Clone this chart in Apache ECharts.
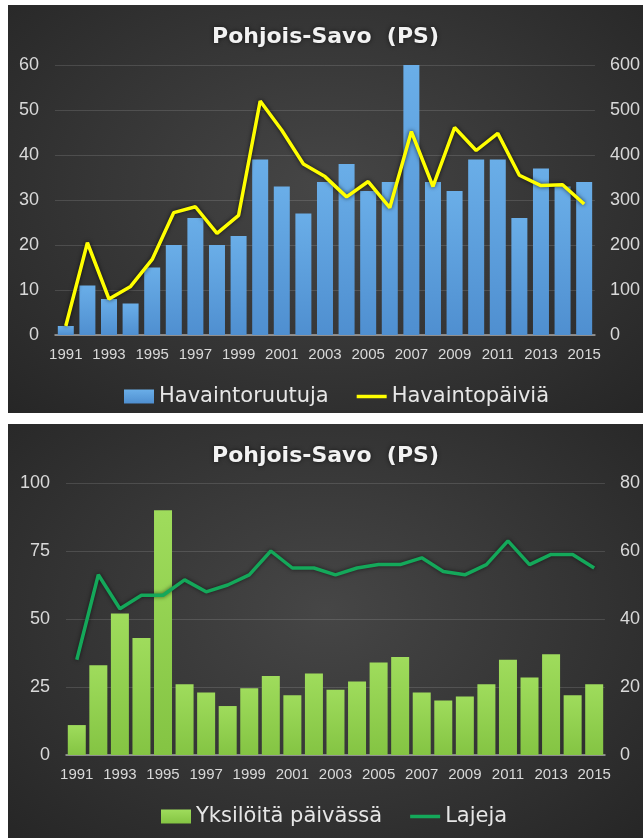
<!DOCTYPE html>
<html>
<head>
<meta charset="utf-8">
<script src="https://cdn.jsdelivr.net/npm/echarts@6/dist/echarts.min.js"></script>
<style>
  html, body { margin: 0; padding: 0; background: #fff; }
  .panel {
    position: absolute;
    left: 8px;
    width: 635px;
    background: radial-gradient(ellipse at 50% 45%, #464646 0%, #363636 50%, #262626 100%);
  }
  #top { top: 5px; height: 408px; }
  #bottom { top: 424px; height: 414px; }
</style>
</head>
<body>
<div id="top" class="panel"></div>
<div id="bottom" class="panel"></div>
<script>
var years = ['1991', '1992', '1993', '1994', '1995', '1996', '1997', '1998', '1999', '2000',
  '2001', '2002', '2003', '2004', '2005', '2006', '2007', '2008', '2009', '2010',
  '2011', '2012', '2013', '2014', '2015']

// yläkaavio
var havaintoruutuja = [2, 11, 8, 7, 15, 20, 26, 20, 22, 39, 33, 27, 34, 38, 32, 34, 60, 34, 32, 39, 39, 26, 37, 33, 34]
var havaintopaivia = [20, 205, 80, 108, 168, 272, 285, 226, 266, 520, 455, 380, 352, 307, 341, 283, 452, 330, 461, 410, 448, 355, 332, 334, 291]

// alakaavio
var yksiloita = [11, 33, 52, 43, 90, 26, 23, 18, 24.5, 29, 22, 30, 24, 27, 34, 36, 23, 20, 21.5, 26, 35, 28.5, 37, 22, 26]
var lajeja = [28, 53, 43, 47, 47, 51.5, 48, 50, 53, 60, 55, 55, 53, 55, 56, 56, 58, 54, 53, 56, 63, 56, 59, 59, 55]

var labelColor = '#d9d9d9'
var gridColor = 'rgba(255,255,255,0.13)'
var lineIcon = 'path://M0 0H30V3.5H0Z' // pelkkä viiva legendaan

function baseOption (opt) {
  return {
    animation: false,
    title: {
      text: 'Pohjois-Savo  (PS)',
      left: 'center',
      top: 16,
      textStyle: {
        color: '#f2f2f2',
        fontFamily: 'DejaVu Sans',
        fontWeight: 'bold',
        fontSize: 22,
        textShadowColor: 'rgba(0,0,0,0.6)',
        textShadowBlur: 4
      }
    },
    legend: {
      left: opt.legendLeft,
      top: opt.legendTop,
      itemWidth: 30,
      itemHeight: 14,
      itemGap: 28,
      symbolKeepAspect: true,
      textStyle: {
        color: '#e6e6e6',
        fontFamily: 'DejaVu Sans',
        fontSize: 21
      },
      data: [
        { name: opt.legendData[0], icon: 'rect' },
        { name: opt.legendData[1], icon: lineIcon }
      ]
    },
    grid: opt.grid,
    xAxis: {
      type: 'category',
      data: years,
      axisTick: { show: false },
      axisLine: { lineStyle: { color: '#a6a6a6', width: 1.5 } },
      axisLabel: {
        interval: 1,
        color: labelColor,
        fontFamily: 'Liberation Sans',
        fontSize: 15,
        margin: 12
      }
    },
    yAxis: [{
      type: 'value',
      min: 0,
      max: opt.leftMax,
      interval: opt.leftStep,
      axisLabel: { color: labelColor, fontFamily: 'Liberation Sans', fontSize: 18, margin: 16 },
      splitLine: { lineStyle: { color: gridColor, width: 1 } }
    }, {
      type: 'value',
      min: 0,
      max: opt.rightMax,
      interval: opt.rightStep,
      axisLabel: { color: labelColor, fontFamily: 'Liberation Sans', fontSize: 18, margin: 15 },
      splitLine: { show: false }
    }],
    series: opt.series
  }
}

var topChart = echarts.init(document.getElementById('top'))
topChart.setOption(baseOption({
  legendLeft: 111,
  legendTop: 376,
  legendData: ['Havaintoruutuja', 'Havaintopäiviä'],
  grid: { left: 47, right: 48, top: 60, bottom: 78 },
  leftMax: 60,
  leftStep: 10,
  rightMax: 600,
  rightStep: 100,
  series: [{
    name: 'Havaintoruutuja',
    type: 'bar',
    barWidth: 16,
    itemStyle: {
      color: new echarts.graphic.LinearGradient(0, 0, 0, 1, [
        { offset: 0, color: '#6aaee8' },
        { offset: 1, color: '#4f8fd0' }
      ])
    },
    data: havaintoruutuja
  }, {
    name: 'Havaintopäiviä',
    type: 'line',
    yAxisIndex: 1,
    symbol: 'none',
    lineStyle: {
      color: '#ffff00',
      width: 3.5,
      shadowColor: 'rgba(0,0,0,0.7)',
      shadowBlur: 4
    },
    itemStyle: { color: '#ffff00' },
    data: havaintopaivia
  }]
}))

var bottomChart = echarts.init(document.getElementById('bottom'))
bottomChart.setOption(baseOption({
  legendLeft: 148,
  legendTop: 377,
  legendData: ['Yksilöitä päivässä', 'Lajeja'],
  grid: { left: 58, right: 37, top: 59, bottom: 83 },
  leftMax: 100,
  leftStep: 25,
  rightMax: 80,
  rightStep: 20,
  series: [{
    name: 'Yksilöitä päivässä',
    type: 'bar',
    barWidth: 18,
    itemStyle: {
      color: new echarts.graphic.LinearGradient(0, 0, 0, 1, [
        { offset: 0, color: '#9fdc5c' },
        { offset: 1, color: '#84c443' }
      ])
    },
    data: yksiloita
  }, {
    name: 'Lajeja',
    type: 'line',
    yAxisIndex: 1,
    symbol: 'none',
    lineStyle: {
      color: '#14a85a',
      width: 3.5,
      shadowColor: 'rgba(0,0,0,0.6)',
      shadowBlur: 4
    },
    itemStyle: { color: '#14a85a' },
    data: lajeja
  }]
}))
</script>
</body>
</html>
